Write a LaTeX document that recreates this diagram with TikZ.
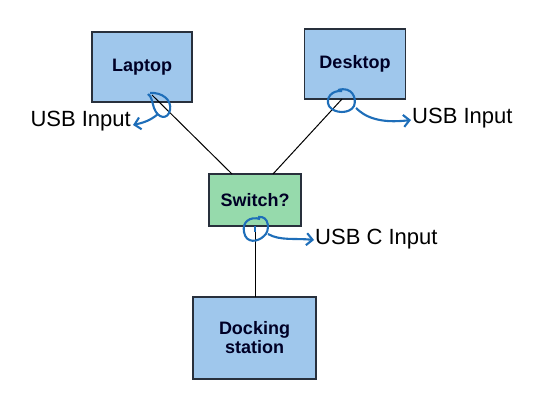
\documentclass[tikz,border=0pt]{standalone}
\usepackage{fontspec}
\setmainfont{Liberation Sans}
\usetikzlibrary{arrows.meta}
\definecolor{boxblue}{RGB}{159,199,236}
\definecolor{boxgreen}{RGB}{150,218,172}
\definecolor{pen}{RGB}{30,110,185}
\definecolor{edge}{RGB}{40,48,60}
\tikzset{
  device/.style={draw=edge, line width=1.3pt, fill=boxblue, font=\fontsize{18}{20}\selectfont\bfseries, text=black!85!blue, align=center, inner sep=0pt},
  wire/.style={draw=black, line width=1pt},
  loop/.style={draw=pen, line width=2.1pt},
  pointer/.style={draw=pen, line width=2.1pt, -{Straight Barb[length=6pt,width=12pt]}},
  note/.style={font=\fontsize{22}{24}\selectfont, text=black, inner sep=0pt, anchor=west}
}
\begin{document}
\begin{tikzpicture}[x=1pt,y=-1pt]
\useasboundingbox (0,0) rectangle (540,406);
\node[device, minimum width=100pt, minimum height=70pt] (laptop) at (142,67) {Laptop};
\node[device, minimum width=101pt, minimum height=70pt] (desktop) at (355,64) {Desktop};
\node[device, fill=boxgreen, minimum width=92pt, minimum height=52pt] (switch) at (255,200) {Switch?};
\node[device, minimum width=123pt, minimum height=82pt] (dock) at (254.5,338) {Docking\\[-1pt]station};
% connection points
\coordinate (lp) at (152,95);
\coordinate (dp) at (342,99);
\coordinate (swl) at (232,174);
\coordinate (swr) at (273,174);
\coordinate (swb) at (255,226);
\coordinate (dkt) at (255,297);
\draw[wire] (lp) -- (swl);
\draw[wire] (dp) -- (swr);
\draw[wire] (swb) -- (dkt);
% hand-drawn loops
\draw[loop] (150,93) .. controls (162,92) and (172,100) .. (170,110) .. controls (168,120) and (158,119) .. (154,108) .. controls (152,102) and (152,97) .. (148,94);
\draw[loop] (338,90) .. controls (352,86) and (357,98) .. (354,106) .. controls (350,114) and (334,114) .. (329,106) .. controls (325,98) and (332,90) .. (342,91);
\draw[loop] (258,217) .. controls (270,215) and (270,232) .. (264,236) .. controls (258,242) and (246,244) .. (244,232) .. controls (242,222) and (250,216) .. (260,219);
\draw[loop] (255,226) -- (255,232);
% pointers
\coordinate (ltip) at (133,125);
\coordinate (dtip) at (411,120);
\coordinate (stip) at (314,240);
\draw[pointer] (158,114) .. controls (150,121) and (142,123) .. (ltip);
\draw[pointer] (356,108) .. controls (364,116) and (378,124) .. (dtip);
\draw[pointer] (268,234) .. controls (280,241) and (296,238) .. (stip);
% notes
\node[note, anchor=east] (lnote) at (131,121) {USB Input};
\node[note] (dnote) at (412,118) {USB Input};
\node[note] (snote) at (315,239) {USB C Input};
\end{tikzpicture}
\end{document}
